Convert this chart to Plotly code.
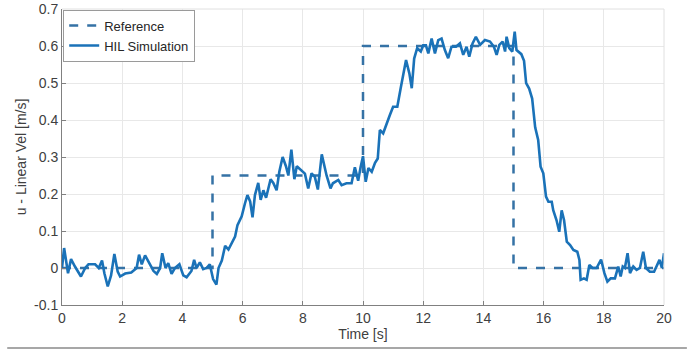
import plotly.graph_objects as go

# Reference (step) signal
ref_t = [0, 5, 5, 10, 10, 15, 15, 20]
ref_u = [0, 0, 0.25, 0.25, 0.6, 0.6, 0, 0]

# HIL simulation
hil_t = [0.0, 0.07, 0.2, 0.3, 0.43, 0.63, 0.77, 0.88, 1.1, 1.22, 1.33, 1.41, 1.52, 1.63, 1.74, 1.85, 1.93,
         2.1, 2.3, 2.48, 2.56, 2.65, 2.76, 2.93, 3.04, 3.15, 3.26, 3.33, 3.44, 3.53, 3.64, 3.75, 3.9,
         4.03, 4.14, 4.3, 4.39, 4.47, 4.58, 4.69, 4.8, 4.91, 5.02, 5.13, 5.2, 5.31, 5.42, 5.53, 5.64,
         5.75, 5.83, 5.97, 6.08, 6.16, 6.25, 6.33, 6.41, 6.52, 6.6, 6.69, 6.78, 6.86, 6.93, 7.02, 7.13,
         7.22, 7.33, 7.44, 7.52, 7.62, 7.72, 7.8, 7.94, 8.07, 8.18, 8.29, 8.4, 8.5, 8.63, 8.74, 8.79,
         8.92, 9.0, 9.18, 9.29, 9.45, 9.62, 9.73, 9.84, 9.92, 10.0, 10.09, 10.18, 10.29, 10.4, 10.49,
         10.56, 10.67, 10.76, 10.89, 11.0, 11.14, 11.25, 11.34, 11.43, 11.54, 11.62, 11.7, 11.8, 11.92,
         12.0, 12.09, 12.17, 12.28, 12.39, 12.5, 12.61, 12.72, 12.83, 12.94, 13.09, 13.22, 13.33, 13.44,
         13.53, 13.64, 13.75, 13.89, 14.05, 14.22, 14.35, 14.44, 14.53, 14.64, 14.72, 14.77, 14.86,
         14.96, 15.04, 15.1, 15.26, 15.35, 15.42, 15.52, 15.62, 15.72, 15.82, 15.9, 15.99, 16.08,
         16.16, 16.27, 16.32, 16.43, 16.52, 16.6, 16.68, 16.77, 16.88, 16.99, 17.12, 17.19, 17.23,
         17.34, 17.43, 17.52, 17.63, 17.76, 17.91, 18.02, 18.12, 18.23, 18.37, 18.48, 18.56, 18.63,
         18.7, 18.79, 18.87, 18.98, 19.09, 19.2, 19.31, 19.4, 19.53, 19.67, 19.76, 19.85, 19.93, 20.0]
hil_u = [0.0, 0.054, -0.014, 0.024, 0.004, -0.023, 0.0, 0.01, 0.01, 0.0, 0.02, -0.015, -0.05, -0.02, 0.038, -0.01, -0.023,
         -0.015, -0.012, 0.0, 0.036, 0.01, 0.034, 0.006, -0.008, -0.016, 0.0, 0.04, 0.0, 0.013, -0.016, 0.0, 0.01,
         -0.02, -0.025, -0.008, 0.022, 0.0, 0.015, -0.003, 0.0, 0.01, -0.03, -0.045, 0.0, 0.02, 0.06, 0.05, 0.066,
         0.085, 0.116, 0.14, 0.175, 0.197, 0.18, 0.137, 0.197, 0.23, 0.184, 0.21, 0.19, 0.215, 0.24, 0.23, 0.21,
         0.26, 0.3, 0.275, 0.25, 0.32, 0.24, 0.275, 0.265, 0.255, 0.215, 0.256, 0.246, 0.212, 0.307, 0.27, 0.25,
         0.215, 0.229, 0.238, 0.224, 0.229, 0.229, 0.272, 0.236, 0.272, 0.302, 0.233, 0.27, 0.26, 0.284, 0.296,
         0.373, 0.364, 0.386, 0.413, 0.436, 0.436, 0.485, 0.526, 0.562, 0.526, 0.486, 0.566, 0.594, 0.585,
         0.602, 0.602, 0.58, 0.62, 0.58, 0.616, 0.62, 0.589, 0.567, 0.598, 0.598, 0.607, 0.576, 0.598,
         0.571, 0.607, 0.625, 0.603, 0.616, 0.612, 0.598, 0.576, 0.603, 0.612, 0.585, 0.625, 0.594,
         0.585, 0.639, 0.589, 0.578, 0.56, 0.5, 0.485, 0.458, 0.38, 0.346, 0.274, 0.256, 0.193,
         0.179, 0.179, 0.156, 0.129, 0.098, 0.156, 0.129, 0.071, 0.062, 0.049, 0.044, 0.022, -0.032,
         -0.028, -0.032, 0.008, 0.0, 0.0, 0.023, -0.014, -0.037, -0.028, -0.028, 0.004, -0.023, 0.004,
         0.0, 0.04, -0.014, 0.004, -0.005, 0.0, 0.044, 0.0, -0.01, -0.01, 0.008, 0.022, 0.0, 0.04]

x_ticks = [0, 2, 4, 6, 8, 10, 12, 14, 16, 18, 20]
y_ticks = [-0.1, 0, 0.1, 0.2, 0.3, 0.4, 0.5, 0.6, 0.7]
y_labels = ["-0.1", "0", "0.1", "0.2", "0.3", "0.4", "0.5", "0.6", "0.7"]

fig = go.Figure()
fig.add_trace(go.Scatter(x=ref_t, y=ref_u, mode="lines", name="Reference",
                         line=dict(color="#3572a5", width=2.5, dash="dash")))
fig.add_trace(go.Scatter(x=hil_t, y=hil_u, mode="lines", name="HIL Simulation",
                         line=dict(color="#1a72b8", width=2.6)))

ff = "Liberation Sans, Arial, sans-serif"
fig.update_layout(
    width=692, height=358,
    margin=dict(l=62, r=28, t=9, b=53, autoexpand=False),
    paper_bgcolor="white", plot_bgcolor="white",
    font=dict(family=ff, size=14, color="#404040"),
    showlegend=True,
    legend=dict(x=0.002, y=0.998, xanchor="left", yanchor="top",
                bgcolor="white", bordercolor="#9a9a9a", borderwidth=1,
                font=dict(family=ff, size=13, color="#262626"),
                tracegroupgap=0, itemwidth=30),
    xaxis=dict(range=[0, 20], tickvals=x_ticks, ticktext=[str(v) for v in x_ticks],
               automargin=False,
               showgrid=True, gridcolor="#e8e8e8", zeroline=False,
               showline=True, linecolor="#808080", linewidth=1,
               ticks="inside", ticklen=4, tickcolor="#808080",
               tickfont=dict(size=14, color="#404040"),
               title=dict(text="Time [s]", standoff=4, font=dict(size=14, color="#404040"))),
    yaxis=dict(range=[-0.1, 0.7], tickvals=y_ticks, ticktext=y_labels,
               automargin=False,
               showgrid=True, gridcolor="#e8e8e8", zeroline=False,
               showline=True, linecolor="#808080", linewidth=1,
               ticks="inside", ticklen=4, tickcolor="#808080",
               tickfont=dict(size=14, color="#404040"),
               title=dict(text="u - Linear Vel [m/s]", standoff=4, font=dict(size=14, color="#404040"))),
    shapes=[
        dict(type="line", xref="paper", yref="paper", x0=0, x1=1, y0=1, y1=1,
             line=dict(color="#e0e0e0", width=1)),
        dict(type="line", xref="paper", yref="paper", x0=1, x1=1, y0=0, y1=1,
             line=dict(color="#e0e0e0", width=1)),
        dict(type="line", xref="paper", yref="paper", x0=-0.091, x1=1.038, y0=-0.145, y1=-0.145,
             line=dict(color="#8a8a8a", width=1.5)),
    ],
)

fig.write_html("out.html", config={"displayModeBar": False},
               post_script="document.body.style.margin='0';")
